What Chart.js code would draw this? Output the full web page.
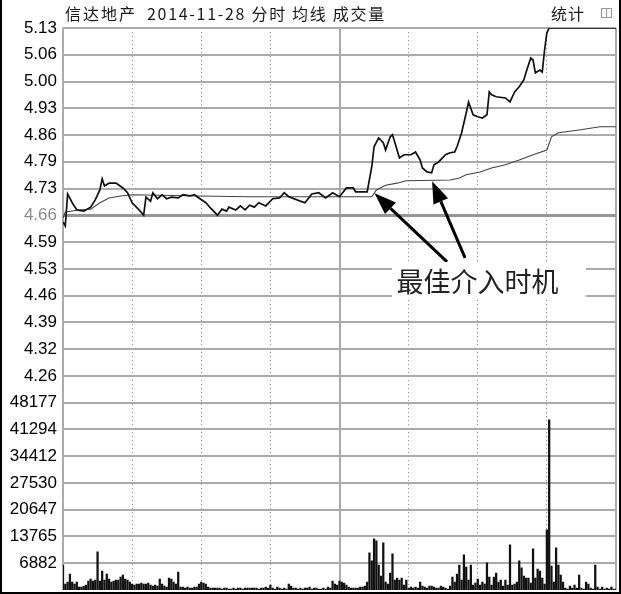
<!DOCTYPE html>
<html>
<head>
<meta charset="utf-8">
<script src="https://cdn.jsdelivr.net/npm/chart.js@4"></script>
<style>
  body { margin: 0; background: #fff; }
  #wrap { position: relative; width: 621px; height: 594px; overflow: hidden; }
  #c { position: absolute; left: 0; top: 0; }
  #frame { position: absolute; left: 0; top: 0; width: 621px; height: 594px; box-sizing: border-box;
           border-left: 2px solid #000; border-right: 2px solid #000; border-bottom: 2px solid #000; pointer-events: none; }
  .hd { position: absolute; top: 2px; font: 16px "Noto Sans CJK SC", sans-serif; line-height: 22px; color: #1a1a1a; white-space: nowrap; }
  #icon { position: absolute; left: 601px; top: 8px; width: 11px; height: 10px; border: 1px solid #999; box-sizing: border-box; }
  #icon::after { content: ""; position: absolute; left: 4px; top: 0; width: 1px; height: 8px; background: #999; }
  #note { position: absolute; background: #fff; font: 27px "Noto Sans CJK SC", sans-serif; color: #222;
          display: flex; align-items: center; padding-left: 4px; box-sizing: border-box; white-space: nowrap; }
</style>
</head>
<body>
<div id="wrap">
  <canvas id="c" width="621" height="594"></canvas>
  <div class="hd" style="left:65px;letter-spacing:2px">信达地产</div>
  <div class="hd" style="left:147px;letter-spacing:1.7px">2014-11-28 分时 均线 成交量</div>
  <div class="hd" style="left:551px;letter-spacing:1px">统计</div>
  <div id="icon"></div>
  <div id="note">最佳介入时机</div>
  <div id="frame"></div>
</div>
<script>
// axis labels
const priceTickLabels = ["5.13", "5.06", "5.00", "4.93", "4.86", "4.79", "4.73", "4.66", "4.59", "4.53", "4.46", "4.39", "4.32", "4.26"];
const volTickLabels = ["48177", "41294", "34412", "27530", "20647", "13765", "6882"];
const prevCloseLabel = "4.66";
const halfHourTicks = [30, 60, 90, 150, 180, 210];
const sessionTicks = [0, 120, 240];

// price line (minute of session, price)
const priceMinutes = [0,1,2,4,6,9,12,14,16,17,18,20,23,26,28,30,33,35,36,38,39,41,43,45,47,50,52,55,57,59,
  62,64,67,69,71,72,75,77,79,81,83,85,88,91,94,96,98,103,105,108,111,114,117,120,123,126,127,132,134,135,
  137,139,140,142,143,145,146,148,151,153,155,156,158,160,161,163,166,168,170,171,173,175,176,178,180,182,184,185,186,188,
  192,194,196,198,200,201,203,204,205,207,208,209,210,211,240];
const priceValues = [4.645,4.635,4.715,4.693,4.675,4.672,4.682,4.70,4.725,4.753,4.735,4.742,4.742,4.73,4.718,4.693,4.675,4.662,4.707,4.697,
  4.718,4.703,4.713,4.703,4.707,4.705,4.713,4.71,4.713,4.705,4.693,4.68,4.662,4.677,4.672,4.682,4.675,4.685,4.675,4.687,
  4.682,4.693,4.685,4.703,4.705,4.718,4.708,4.697,4.693,4.715,4.718,4.705,4.718,4.708,4.73,4.73,4.72,4.72,4.783,4.833,
  4.855,4.843,4.825,4.858,4.863,4.825,4.805,4.813,4.813,4.82,4.80,4.78,4.77,4.768,4.788,4.795,4.813,4.818,4.82,4.833,
  4.868,4.918,4.945,4.913,4.908,4.905,4.913,4.97,4.963,4.958,4.955,4.945,4.97,4.983,5.00,5.02,5.055,5.05,5.018,5.025,
  5.02,5.075,5.118,5.13,5.13];

// average price line
const avgMinutes = [0,1,7,12,16,20,25,30,59,81,120,134,136,140,145,149,168,172,175,181,186,192,198,204,210,212,215,224,233,240];
const avgValues = [4.655,4.67,4.675,4.677,4.693,4.705,4.71,4.713,4.71,4.708,4.708,4.708,4.725,4.737,4.742,4.748,4.75,4.755,4.763,4.77,
  4.78,4.788,4.80,4.813,4.825,4.858,4.868,4.875,4.883,4.883];

// volume per minute, 0..240
const volumes = [
  6440,1550,2060,4120,2060,1550,2060,770,770,1030,
  1290,2320,2830,2320,2580,9790,2320,4890,2580,4120,
  2830,2060,2320,2580,2580,3350,3860,2830,2580,2060,
  1550,1290,1550,1550,1800,1550,1550,1800,1290,1030,
  1290,1030,2830,1550,1030,770,3090,2830,2060,1550,
  4640,770,770,520,770,520,520,770,770,1550,
  2060,1800,1550,770,520,520,520,520,520,260,
  520,520,260,260,520,260,520,520,260,520,
  520,520,520,520,520,260,520,520,770,520,
  1290,520,260,770,520,260,520,260,1550,1030,
  520,520,260,520,260,520,520,770,260,520,
  520,260,260,520,260,770,520,2320,1550,1290,
  2320,2060,1800,1290,770,520,520,520,520,770,
  770,1030,2060,9530,7470,13140,12620,6440,3610,12110,
  2060,1550,4380,9270,2580,3090,2580,3090,1290,2580,
  520,770,520,770,520,2060,1030,770,520,1030,
  1030,770,520,520,1030,770,520,260,1030,3350,
  2060,4120,6440,2580,9020,5920,2580,6440,1290,1800,
  2830,1290,2060,1550,6960,3350,1290,3350,4380,2060,
  2580,1030,2580,1290,11590,1290,1550,2060,7470,5670,
  3610,3090,3090,1800,10560,3090,5410,4890,3090,1550,
  15460,43790,6180,2060,10820,6440,3860,2060,520,260,
  1030,520,1290,520,3860,520,260,2060,1550,520,
  260,6440,770,260,770,260,520,260,770,260,260
];

// annotation: arrows (minute, price) and label box
const arrowTips = [[135.2, 4.717], [160.2, 4.747]];
const arrowTails = [[166.7, 4.545], [174.5, 4.555]];
const noteBox = [143, 227, 4.545, 4.45];

const priceMax = 5.13, priceLow = 4.26;
const priceStep = (priceMax - priceLow) / (priceTickLabels.length - 1);
const priceMin = priceLow - priceStep;
const volMax = 48177;
const volStep = volMax / volTickLabels.length;

const gridGray = "#ababab";

const annotate = {
  id: "annotate",
  afterDatasetsDraw(chart) {
    const { ctx, scales: { x, yPrice } } = chart;
    ctx.save();
    ctx.strokeStyle = "#000";
    ctx.fillStyle = "#000";
    ctx.lineWidth = 3;
    arrowTips.forEach((tip, i) => {
      const x1 = x.getPixelForValue(arrowTails[i][0]), y1 = yPrice.getPixelForValue(arrowTails[i][1]);
      const x2 = x.getPixelForValue(tip[0]), y2 = yPrice.getPixelForValue(tip[1]);
      const a = Math.atan2(y2 - y1, x2 - x1);
      const head = 22, half = 8;
      const bx = x2 - head * Math.cos(a), by = y2 - head * Math.sin(a);
      ctx.beginPath(); ctx.moveTo(x1, y1); ctx.lineTo(bx, by); ctx.stroke();
      ctx.beginPath();
      ctx.moveTo(x2, y2);
      ctx.lineTo(bx + half * Math.sin(a), by - half * Math.cos(a));
      ctx.lineTo(bx - half * Math.sin(a), by + half * Math.cos(a));
      ctx.closePath(); ctx.fill();
    });
    ctx.restore();

    const note = document.getElementById("note");
    const left = x.getPixelForValue(noteBox[0]), right = x.getPixelForValue(noteBox[1]);
    const top = yPrice.getPixelForValue(noteBox[2]), bottom = yPrice.getPixelForValue(noteBox[3]);
    note.style.left = left + "px";
    note.style.top = top + "px";
    note.style.width = (right - left) + "px";
    note.style.height = (bottom - top) + "px";
  }
};

const tickFont = { family: "Liberation Sans", size: 17 };
const flatX = s => { s.height = 0; s.paddingLeft = 0; s.paddingRight = 0; };

new Chart(document.getElementById("c"), {
  type: "line",
  data: {
    datasets: [
      {
        label: "分时",
        data: priceMinutes.map((m, i) => ({ x: m, y: priceValues[i] })),
        yAxisID: "yPrice",
        borderColor: "#111",
        borderWidth: 1.7,
        pointRadius: 0,
        tension: 0
      },
      {
        label: "均线",
        data: avgMinutes.map((m, i) => ({ x: m, y: avgValues[i] })),
        yAxisID: "yPrice",
        borderColor: "#444",
        borderWidth: 1.1,
        pointRadius: 0,
        tension: 0
      },
      {
        type: "bar",
        label: "成交量",
        data: volumes.map((v, i) => ({ x: i, y: v })),
        yAxisID: "yVol",
        backgroundColor: "#111",
        barThickness: 1.6
      }
    ]
  },
  options: {
    responsive: false,
    animation: false,
    devicePixelRatio: 1,
    layout: { padding: { left: 0, top: 28, right: 5, bottom: 4 } },
    plugins: { legend: { display: false }, tooltip: { enabled: false } },
    scales: {
      x: {
        type: "linear",
        min: 0,
        max: 240,
        offset: false,
        ticks: { display: false },
        grid: { drawTicks: false, offset: false, color: "#999", lineWidth: 1 },
        border: { display: false, dash: [1, 3] },
        afterBuildTicks: s => { s.ticks = halfHourTicks.map(v => ({ value: v })); },
        afterFit: flatX
      },
      xSession: {
        type: "linear",
        position: "bottom",
        min: 0,
        max: 240,
        offset: false,
        ticks: { display: false },
        grid: { drawTicks: false, offset: false, color: gridGray, lineWidth: 2 },
        border: { display: false },
        afterBuildTicks: s => { s.ticks = sessionTicks.map(v => ({ value: v })); },
        afterFit: flatX
      },
      yPrice: {
        type: "linear",
        position: "left",
        stack: "main",
        stackWeight: priceTickLabels.length,
        weight: 1,
        min: priceMin,
        max: priceMax,
        grid: {
          drawTicks: false,
          color: ctx => (ctx.tick && ctx.tick.label === prevCloseLabel ? "#969696" : gridGray),
          lineWidth: ctx => (ctx.tick && ctx.tick.label === prevCloseLabel ? 3 : 2)
        },
        border: { display: false },
        ticks: {
          autoSkip: false,
          padding: 6,
          font: tickFont,
          color: ctx => (ctx.tick && ctx.tick.label === prevCloseLabel ? "#8c8c8c" : "#000"),
          callback: (v, i, arr) => priceTickLabels[arr.length - 1 - i]
        },
        afterBuildTicks: s => {
          s.ticks = priceTickLabels.map((l, i) => ({ value: priceMax - i * priceStep })).reverse();
        },
        afterFit: s => { s.width = 63; s.paddingTop = 0; s.paddingBottom = 0; }
      },
      yVol: {
        type: "linear",
        position: "left",
        stack: "main",
        stackWeight: volTickLabels.length,
        weight: 0,
        min: 0,
        max: volMax,
        grid: { drawTicks: false, color: gridGray, lineWidth: 2 },
        border: { display: false },
        ticks: {
          autoSkip: false,
          padding: 6,
          font: tickFont,
          color: "#000",
          callback: (v, i, arr) => volTickLabels[arr.length - 1 - i]
        },
        afterBuildTicks: s => {
          s.ticks = volTickLabels.map((l, i) => ({ value: volMax - i * volStep })).reverse();
        },
        afterFit: s => { s.width = 63; s.paddingTop = 0; s.paddingBottom = 0; }
      }
    }
  },
  plugins: [annotate]
});
</script>
</body>
</html>
